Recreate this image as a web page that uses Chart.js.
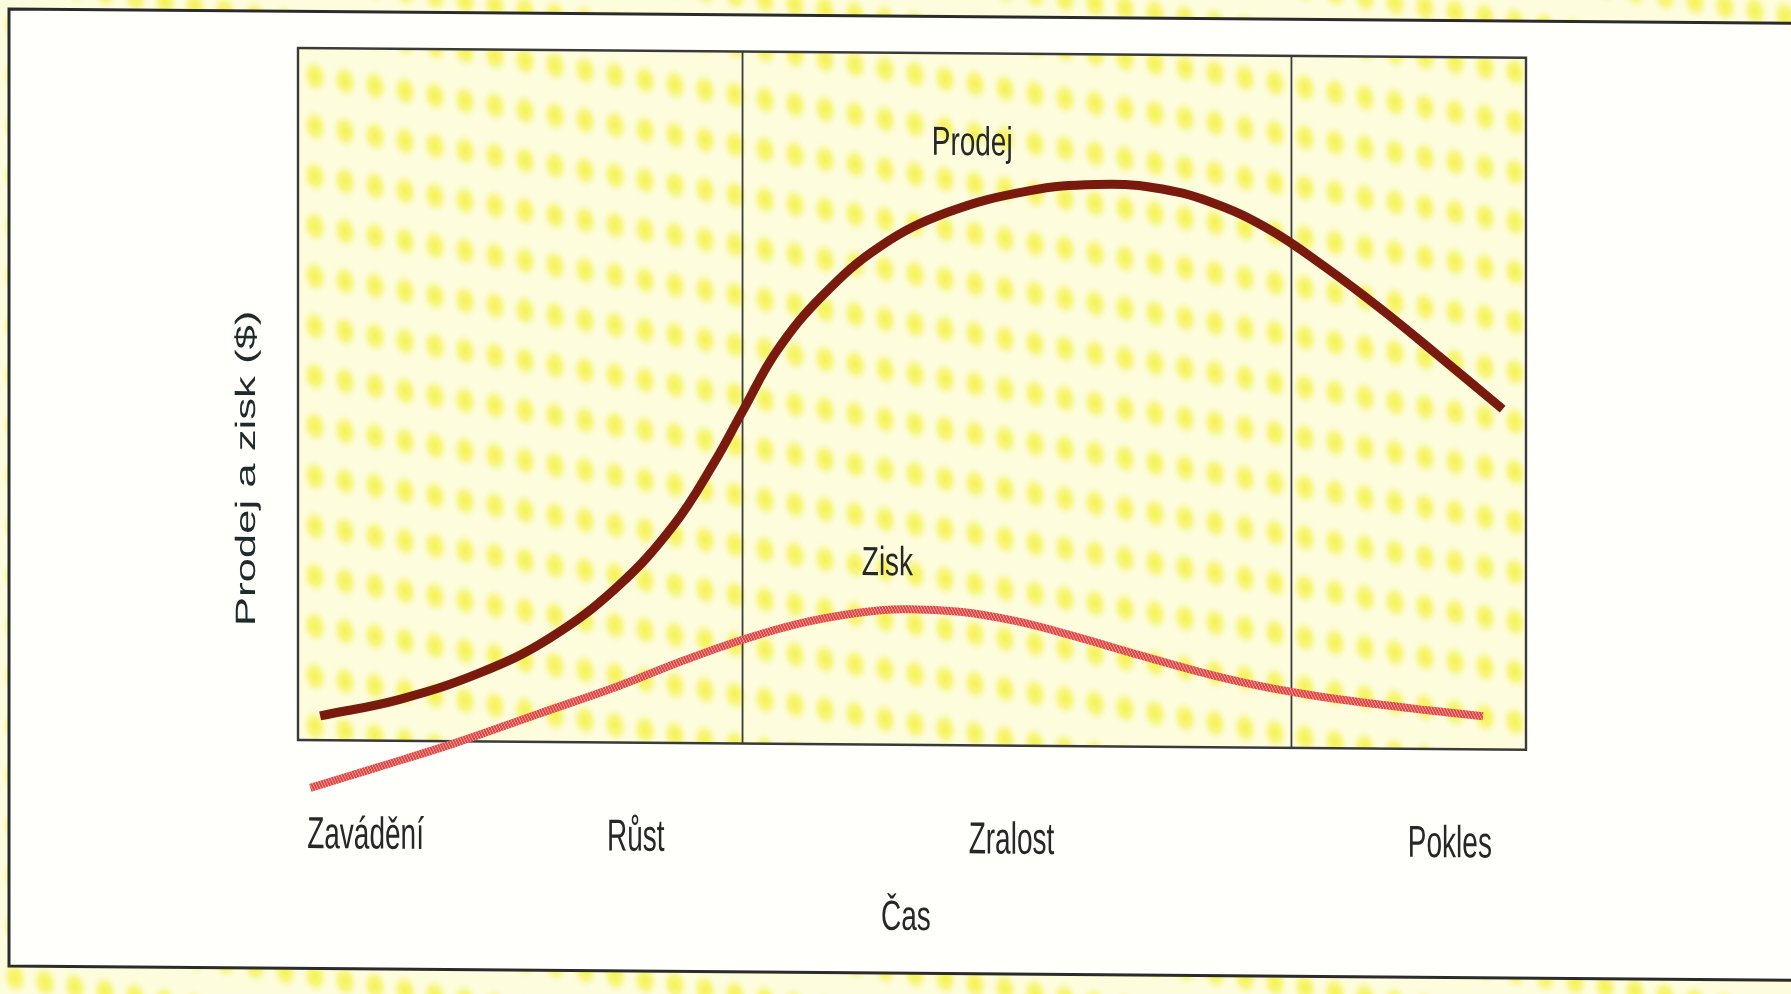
<!DOCTYPE html>
<html>
<head>
<meta charset="utf-8">
<script src="https://cdn.jsdelivr.net/npm/chart.js@4.4.1/dist/chart.umd.min.js"></script>
<style>
  html, body { margin: 0; padding: 0; background: #f7f4b4; overflow: hidden; }
  #wrap { position: relative; width: 1791px; height: 994px; }
</style>
</head>
<body>
<div id="wrap"><canvas id="c"></canvas></div>
<script>
// ---- data ----
const seriesNames = ['Prodej', 'Zisk'];
const xAxisTitle = 'Čas';
const yAxisTitle = 'Prodej a zisk ($)';
const stageLabels = ['Zavádění', 'Růst', 'Zralost', 'Pokles'];
const stageLabelTime = [5.5, 27.5, 58.1, 93.8];
const stageBoundaries = [36.2, 80.9];

const salesTime   = [1.8, 8.3, 14.8, 20.4, 26.0, 30.6, 33.9, 36.2, 39.0, 42.7, 47.4, 52.9, 59.5, 65.0, 69.7, 74.3, 79.0, 83.6, 88.3, 92.9, 98.1];
const salesValues = [3.5, 6.0, 9.9, 14.9, 22.5, 31.5, 40.6, 48.0, 56.8, 64.8, 72.0, 77.0, 80.2, 81.2, 80.8, 78.8, 75.0, 69.6, 63.4, 56.8, 49.2];

const profitTime   = [1.0, 6.4, 12.9, 19.5, 26.0, 31.5, 36.2, 40.8, 45.5, 49.2, 53.9, 58.5, 63.2, 67.8, 73.4, 78.1, 82.7, 87.4, 92.0, 96.5];
const profitValues = [-6.9, -3.9, -0.2, 4.0, 8.1, 12.0, 15.0, 17.4, 19.0, 19.6, 19.3, 18.0, 15.9, 13.6, 10.9, 9.0, 7.6, 6.5, 5.6, 4.8];

// label anchors (data units) for the in-plot series labels
const seriesLabelTime  = [54.9, 48.0];
const seriesLabelValue = [85.3, 24.5];

// ---- styling helpers ----
const SKEW = 0.008;           // slight scan skew of the reference
const FONT = '"Liberation Sans", Arial, Helvetica, sans-serif';

function makeDotPattern(ctx) {
  const t = document.createElement('canvas');
  t.width = 30; t.height = 50;
  const g = t.getContext('2d');
  g.fillStyle = '#fdfcdc';
  g.fillRect(0, 0, 30, 50);
  g.save();
  g.translate(15, 25);
  g.scale(1, 1.35);
  const rg = g.createRadialGradient(0, 0, 0, 0, 0, 13);
  rg.addColorStop(0, 'rgba(245,242,70,0.95)');
  rg.addColorStop(0.5, 'rgba(246,244,95,0.7)');
  rg.addColorStop(1, 'rgba(250,248,170,0)');
  g.fillStyle = rg;
  g.beginPath(); g.arc(0, 0, 13, 0, Math.PI * 2); g.fill();
  g.restore();
  const p = ctx.createPattern(t, 'repeat');
  p.setTransform(new DOMMatrix([1, 0.155, 0, 1, 0, 0]));
  return p;
}

function makeProfitPattern(ctx) {
  const t = document.createElement('canvas');
  t.width = 6; t.height = 6;
  const g = t.getContext('2d');
  g.fillStyle = '#dd4656';
  g.fillRect(0, 0, 6, 6);
  g.fillStyle = '#f59a72';
  for (let i = 0; i < 6; i++) { g.fillRect(i, (i * 2) % 6, 1, 2); }
  return ctx.createPattern(t, 'repeat');
}

function stretchedText(ctx, text, x, y, size, k, color) {
  ctx.save();
  ctx.translate(x, y);
  ctx.scale(1, k);
  ctx.font = size + 'px ' + FONT;
  ctx.textAlign = 'center';
  ctx.textBaseline = 'alphabetic';
  ctx.fillStyle = color || '#272727';
  ctx.fillText(text, 0, 0);
  ctx.restore();
}

const scanPlugin = {
  id: 'scanLook',
  beforeDraw(chart) {
    const ctx = chart.ctx;
    const W = chart.width, H = chart.height;
    if (!chart.$dots) chart.$dots = makeDotPattern(ctx);
    ctx.save();
    ctx.fillStyle = chart.$dots;
    ctx.fillRect(0, 0, W, H);
    // skew like the scanned page
    ctx.transform(1, SKEW, 0, 1, 0, 0);
    ctx.fillStyle = chart.$dots;
    ctx.fillRect(0, -30, W, H + 60);
    // white card
    ctx.fillStyle = '#fffffb';
    ctx.fillRect(9, 9, W, 957);
    ctx.strokeStyle = '#2b2b2b';
    ctx.lineWidth = 3;
    ctx.beginPath();
    ctx.moveTo(W + 20, 9); ctx.lineTo(9, 9); ctx.lineTo(9, 966); ctx.lineTo(W + 20, 966);
    ctx.stroke();
    // plot frame
    const ca = chart.chartArea;
    ctx.fillStyle = chart.$dots;
    ctx.fillRect(ca.left, ca.top, ca.right - ca.left, ca.bottom - ca.top);
    const xs = chart.scales.x;
    ctx.strokeStyle = '#3c3c3c';
    ctx.lineWidth = 1.8;
    stageBoundaries.forEach(b => {
      const px = xs.getPixelForValue(b);
      ctx.beginPath(); ctx.moveTo(px, ca.top); ctx.lineTo(px, ca.bottom); ctx.stroke();
    });
    ctx.lineWidth = 2.4;
    ctx.strokeStyle = '#3a3a3a';
    ctx.strokeRect(ca.left, ca.top, ca.right - ca.left, ca.bottom - ca.top);
    // (save left open: closed in afterDraw so the whole chart shares the skew)
  },
  afterDraw(chart) {
    const ctx = chart.ctx;
    const ca = chart.chartArea;
    const xs = chart.scales.x, ys = chart.scales.y;
    seriesNames.forEach((n, i) => {
      stretchedText(ctx, n, xs.getPixelForValue(seriesLabelTime[i]), ys.getPixelForValue(seriesLabelValue[i]), 28, 1.45);
    });
    stageLabels.forEach((s, i) => {
      stretchedText(ctx, s, xs.getPixelForValue(stageLabelTime[i]), ca.bottom + 108, 28, 1.6);
    });
    stretchedText(ctx, xAxisTitle, xs.getPixelForValue(49.5), ca.bottom + 185, 28, 1.5);
    ctx.save();
    ctx.translate(ca.left - 51, ys.getPixelForValue(39.2));
    ctx.scale(1, 1.56);
    ctx.rotate(-Math.PI / 2);
    ctx.font = '28px ' + FONT;
    ctx.textAlign = 'center';
    ctx.textBaseline = 'middle';
    ctx.fillStyle = '#1f2a2a';
    ctx.fillText(yAxisTitle, 0, 0);
    ctx.restore();
    ctx.restore(); // matches save in beforeDraw
  }
};

const canvas = document.getElementById('c');
const profitPattern = makeProfitPattern(canvas.getContext('2d'));

new Chart(canvas, {
  type: 'line',
  data: {
    datasets: [
      {
        label: seriesNames[0],
        data: salesTime.map((t, i) => ({ x: t, y: salesValues[i] })),
        borderColor: '#7a1a0e',
        borderWidth: 9,
        pointRadius: 0,
        tension: 0.4,
        borderCapStyle: 'butt',
        borderJoinStyle: 'round',
        fill: false,
        clip: false,
        order: 1
      },
      {
        label: seriesNames[1],
        data: profitTime.map((t, i) => ({ x: t, y: profitValues[i] })),
        borderColor: profitPattern,
        borderWidth: 8,
        pointRadius: 0,
        tension: 0.4,
        borderCapStyle: 'butt',
        borderJoinStyle: 'round',
        fill: false,
        clip: false,
        order: 2
      }
    ]
  },
  options: {
    responsive: true,
    maintainAspectRatio: false,
    animation: false,
    devicePixelRatio: 1,
    layout: { padding: { left: 298, right: 265, top: 45.6, bottom: 256.4 } },
    scales: {
      x: { type: 'linear', min: 0, max: 100, display: false },
      y: { type: 'linear', min: 0, max: 100, display: false }
    },
    plugins: {
      legend: { display: false },
      tooltip: { enabled: false }
    },
    events: []
  },
  plugins: [scanPlugin]
});
</script>
</body>
</html>
